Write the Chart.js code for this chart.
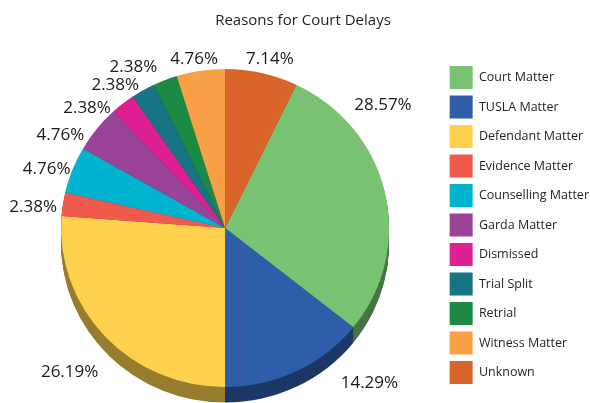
<!DOCTYPE html>
<html>
<head>
<meta charset="utf-8">
<script src="https://cdn.jsdelivr.net/npm/chart.js@4.4.1/dist/chart.umd.min.js"></script>
<style>
  html, body { margin: 0; padding: 0; background: #ffffff; }
</style>
</head>
<body>
<canvas id="myChart" width="590" height="403"></canvas>
<script>
const reasons = [
    'Court Matter', 'TUSLA Matter', 'Defendant Matter', 'Evidence Matter',
    'Counselling Matter', 'Garda Matter', 'Dismissed', 'Trial Split',
    'Retrial', 'Witness Matter', 'Unknown'
];

const shares = [28.57, 14.29, 26.19, 2.38, 4.76, 4.76, 2.38, 2.38, 2.38, 4.76, 7.14];

const slice_colors = [
    '#78c272', '#2e5eaa', '#fdd04e', '#ef5a4c', '#00b4cf', '#9b4398',
    '#de2192', '#177483', '#1b8a45', '#f8a046', '#d9652a'
];

// hand placement of the percent labels, like the original
const label_shift = [-25, -17.2, 0, -2.4, -3.1, -9.2, -10.4, -7.6, -8.3, -1.8, 2.0];   // degrees
const label_gap   = [36, 48, 48, 29, 24, 25, 19, 16, 21, 8, 11];                        // px outside the rim

const pie_depth = 16;
const squash = 0.97;

const total = shares.reduce((a, b) => a + b, 0);
const start_rotation = shares[shares.length - 1] / total * 360;

function darken(hex, f) {
    const n = parseInt(hex.slice(1), 16);
    const r = Math.round(((n >> 16) & 255) * f);
    const g = Math.round(((n >> 8) & 255) * f);
    const b = Math.round((n & 255) * f);
    return `rgb(${r},${g},${b})`;
}

const side_colors = slice_colors.map(c => darken(c, 0.6));

let tilted = false;

const tilt_plugin = {
    id: 'tilt',
    beforeDatasetsDraw(chart) {
        const arcs = chart.getDatasetMeta(0).data;
        if (!arcs.length) return;
        const ctx = chart.ctx;
        const cx = arcs[0].x, cy = arcs[0].y;
        ctx.save();
        tilted = true;
        ctx.translate(cx, cy);
        ctx.scale(1, squash);
        ctx.translate(-cx, -cy);
        for (let d = pie_depth; d > 0; d--) {
            arcs.forEach((arc, i) => {
                const p = arc.getProps(['x', 'y', 'startAngle', 'endAngle', 'outerRadius'], true);
                ctx.beginPath();
                ctx.moveTo(p.x, p.y + d);
                ctx.arc(p.x, p.y + d, p.outerRadius, p.startAngle, p.endAngle);
                ctx.closePath();
                ctx.fillStyle = side_colors[i];
                ctx.fill();
            });
        }
    },
    afterDatasetsDraw(chart) {
        const ctx = chart.ctx;
        if (tilted) {
            ctx.restore();
            tilted = false;
        }
        const arcs = chart.getDatasetMeta(0).data;
        ctx.save();
        ctx.font = '17px "Open Sans"';
        ctx.fillStyle = '#1a1a1a';
        ctx.textAlign = 'center';
        ctx.textBaseline = 'middle';
        arcs.forEach((arc, i) => {
            const p = arc.getProps(['x', 'y', 'startAngle', 'endAngle', 'outerRadius'], true);
            const a = (p.startAngle + p.endAngle) / 2 + label_shift[i] * Math.PI / 180;
            const r = p.outerRadius + label_gap[i];
            ctx.fillText(shares[i].toFixed(2) + '%', p.x + r * Math.cos(a), p.y + r * Math.sin(a));
        });
        ctx.restore();
    }
};

const data = {
    labels: reasons,
    datasets: [{
        data: shares,
        backgroundColor: slice_colors,
        borderWidth: 0,
        clip: false
    }]
};

const options = {
    responsive: false,
    animation: false,
    rotation: start_rotation,
    layout: {
        padding: { left: 7, right: -9, top: 0, bottom: 11 }
    },
    plugins: {
        title: {
            display: true,
            text: 'Reasons for Court Delays',
            color: '#231f20',
            font: { family: 'Open Sans', size: 15, weight: 'normal' },
            padding: { top: 12, bottom: 34 }
        },
        legend: {
            position: 'right',
            title: {
                display: true,
                text: ' ',
                font: { size: 12 },
                padding: { top: 43.6, bottom: 0 }
            },
            labels: {
                boxWidth: 23,
                boxHeight: 23,
                padding: 6.5,
                color: '#231f20',
                font: { family: 'Open Sans', size: 12.5 }
            }
        },
        tooltip: { enabled: false }
    }
};

const chart = new Chart(document.getElementById('myChart'), {
    type: 'pie',
    data: data,
    options: options,
    plugins: [tilt_plugin]
});
</script>
</body>
</html>
